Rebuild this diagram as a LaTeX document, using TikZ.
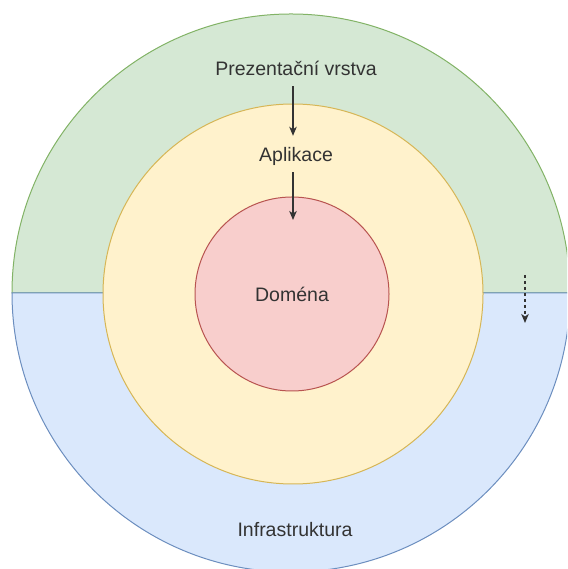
\documentclass[tikz,border=0pt]{standalone}
\usepackage{fontspec}
\setmainfont{Liberation Sans}
\usetikzlibrary{arrows.meta}
\definecolor{greenfill}{HTML}{D5E8D4}
\definecolor{greenline}{HTML}{82B366}
\definecolor{bluefill}{HTML}{DAE8FC}
\definecolor{blueline}{HTML}{6C8EBF}
\definecolor{yellowfill}{HTML}{FFF2CC}
\definecolor{yellowline}{HTML}{D6B656}
\definecolor{redfill}{HTML}{F8CECC}
\definecolor{redline}{HTML}{B85450}
\definecolor{txt}{HTML}{333333}
\begin{document}
\begin{tikzpicture}[x=1pt,y=1pt,
  layer/.style={line width=1pt},
  ring/.style={circle, line width=1pt, inner sep=0pt},
  label/.style={font=\fontsize{19.5}{23}\selectfont, text=txt, inner sep=0pt,
    text height=14pt, text depth=0pt},
  arr/.style={line width=1.3pt, draw=txt, -{Stealth[length=9pt,width=7.5pt,inset=2.5pt]}},
  darr/.style={arr, dash pattern=on 3.5pt off 2.5pt}]
\useasboundingbox (0,0) rectangle (567,569);
\clip (0,0) rectangle (567,569);
% outer ring: presentation layer on top, infrastructure below
\filldraw[layer, fill=greenfill, draw=greenline]
  (12,276) arc[start angle=180, end angle=0, radius=279] -- cycle;
\filldraw[layer, fill=bluefill, draw=blueline]
  (12,276) arc[start angle=180, end angle=360, radius=279] -- cycle;
% application and domain circles
\node[ring, fill=yellowfill, draw=yellowline, minimum size=380pt] (app) at (293,275) {};
\node[ring, fill=redfill, draw=redline, minimum size=194pt] (domring) at (292,275) {};
% labels
\node[label] (pres) at (296,500) {Prezentační vrstva};
\node[label] (apl) at (296,414) {Aplikace};
\node[label] (dom) at (292,274) {Doména};
\node[label] (inf) at (295,39) {Infrastruktura};
% dependency arrows, all on one vertical axis
\coordinate (axis) at (293,0);
\coordinate (domtip) at (293,349);
\coordinate (dstart) at (525,294);
\coordinate (dend) at (525,246);
\draw[arr, shorten <=10pt, shorten >=12pt] (pres.south -| axis) -- (apl.north -| axis);
\draw[arr, shorten <=10pt] (apl.south -| axis) -- (domtip);
\draw[darr] (dstart) -- (dend);
\end{tikzpicture}
\end{document}
